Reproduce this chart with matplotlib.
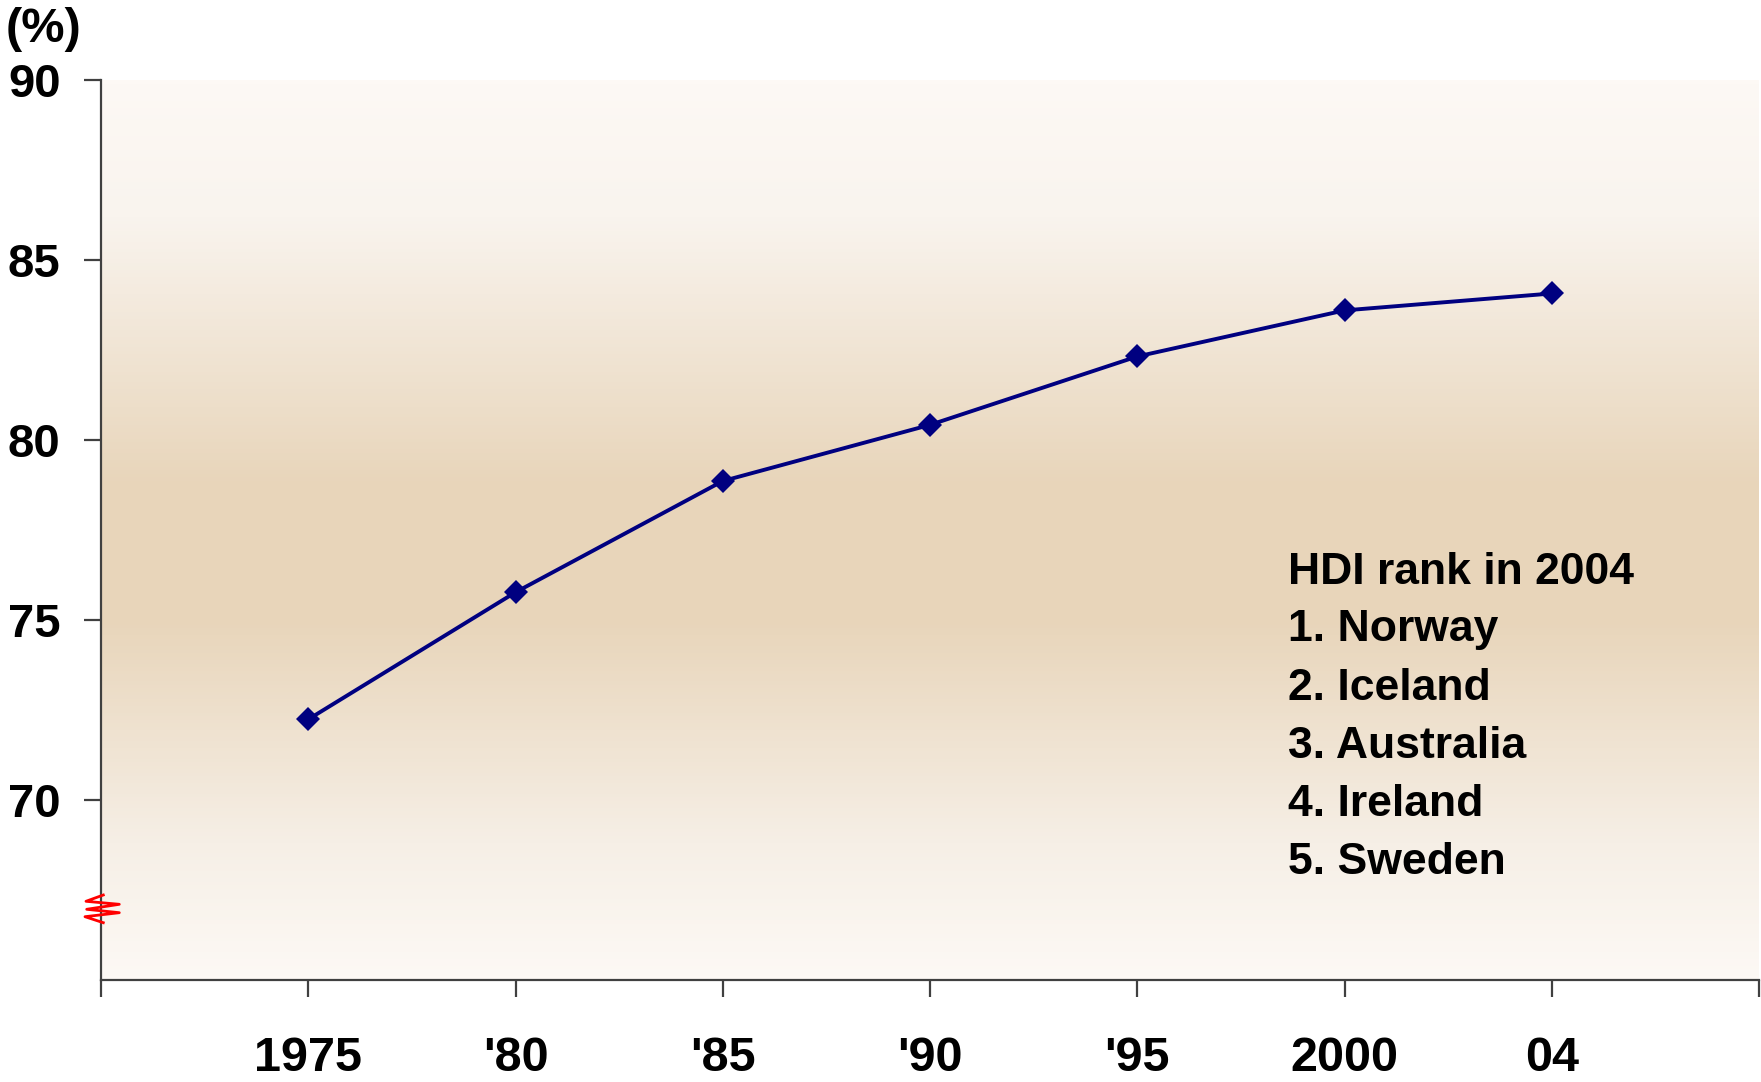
import numpy as np
import matplotlib
matplotlib.use("Agg")
import matplotlib.pyplot as plt
from matplotlib.colors import LinearSegmentedColormap

# data
years = ["1975", "'80", "'85", "'90", "'95", "2000", "04"]
share = [72.24, 75.77, 78.86, 80.42, 82.32, 83.60, 84.07]
ranking = ["HDI rank in 2004", "1. Norway", "2. Iceland", "3. Australia",
           "4. Ireland", "5. Sweden"]
y_ticks = [70, 75, 80, 85, 90]

plt.rcParams['font.family'] = ['Liberation Sans', 'DejaVu Sans']
plt.rcParams['font.weight'] = 'bold'

fig = plt.figure(figsize=(17.61, 10.82), dpi=100)
ax = fig.add_axes([101 / 1761, 1 - 980 / 1082, (1759 - 101) / 1761, (980 - 80) / 1082])

# background gradient: light at the edges, tan in the middle
cmap = LinearSegmentedColormap.from_list(
    "bg", [(0.0, "#fdf9f5"), (0.15, "#f9f4ee"), (0.45, "#e8d5ba"),
           (0.6, "#e8d5ba"), (0.85, "#f6efe6"), (1.0, "#fdf9f5")])
grad = np.linspace(0, 1, 256).reshape(-1, 1)
ax.imshow(grad, cmap=cmap, aspect="auto", extent=[0, 8, 65, 90],
          origin="upper", zorder=0)

x = np.arange(1, len(years) + 1)
ax.plot(x, share, color="#000080", lw=2.8, marker="D", ms=12,
        markeredgewidth=0, zorder=3)

ax.set_xlim(0, 8)
ax.set_ylim(65, 90)
ax.set_xticks(np.arange(0, 9))
ax.set_xticklabels([""] + years + [""])
ax.set_yticks(y_ticks)
ax.set_yticklabels([str(v) for v in y_ticks])

for s in ["top", "right"]:
    ax.spines[s].set_visible(False)
for s in ["left", "bottom"]:
    ax.spines[s].set_color("#404040")
    ax.spines[s].set_linewidth(1.6)

ax.tick_params(axis="y", length=12, width=1.6, color="#404040",
               labelsize=34, pad=17)
ax.tick_params(axis="x", length=12, width=1.6, color="#404040",
               labelsize=35, pad=28)
for lab in ax.get_xticklabels() + ax.get_yticklabels():
    lab.set_fontweight("bold")

# ranking list
for i, line in enumerate(ranking):
    ax.text(1288 / 1761, 1 - (572 + 58 * i) / 1082, line, transform=fig.transFigure,
            fontsize=32, fontweight="bold", va="center", ha="left")

fig.text(6 / 1761, 1 - 30 / 1082, "(%)", fontsize=35, fontweight="bold",
         va="center", ha="left")

# axis break mark
zx = [103.3, 86, 119.3, 86.7, 119.3, 85, 103.3]
zy = [895, 901.3, 904.3, 909.3, 912.7, 916.7, 922.7]
fig.lines.append(plt.Line2D([v / 1761 for v in zx], [1 - v / 1082 for v in zy],
                            transform=fig.transFigure, color="red", lw=2))

fig.savefig("out.png", dpi=100)
